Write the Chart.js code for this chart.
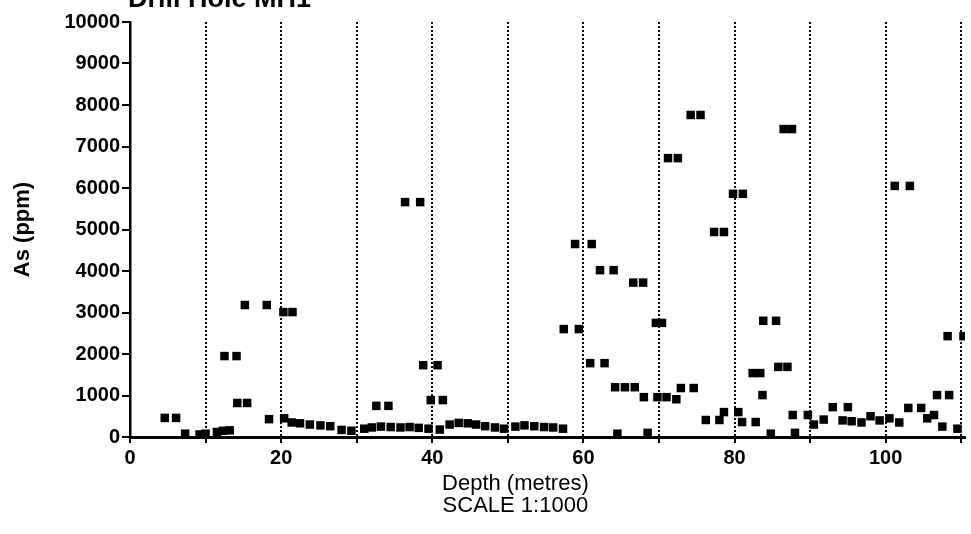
<!DOCTYPE html>
<html>
<head>
<meta charset="utf-8">
<script src="https://cdn.jsdelivr.net/npm/chart.js@4"></script>
<style>
  html, body { margin: 0; padding: 0; background: #fff; overflow: hidden; }
  #wrap { position: relative; width: 971px; height: 534px; }
  #heading {
    position: absolute; left: 128px; top: -17px;
    font: bold 27px "Liberation Sans", Arial, sans-serif; color: #000;
    white-space: nowrap;
  }
</style>
</head>
<body>
<div id="wrap">
  <div id="heading">Drill Hole MH1</div>
  <canvas id="asChart" width="971" height="534"></canvas>
</div>
<script>
// depth of each sample (m) and its arsenic assay (ppm)
const depths = [
  4.6, 6.1, 7.3, 9.2, 10.0, 11.5, 12.3, 13.2, 12.5, 14.1, 14.2, 15.5, 15.2, 18.1, 18.4,
  20.3, 21.5, 20.4, 21.4, 22.5, 23.8, 25.2, 26.5, 28.0, 29.3,
  31.0, 32.0, 32.6, 34.2, 33.2, 34.5, 35.8, 36.4, 38.4, 37.0, 38.2, 38.8, 40.7, 39.8, 41.4, 39.5,
  41.0, 42.3, 43.5, 44.7, 45.8, 47.0, 48.3, 49.5,
  51.0, 52.2, 53.5, 54.8, 56.0, 57.3, 57.4, 59.4, 58.9, 61.1,
  60.9, 62.8, 62.2, 64.0, 64.2, 65.5, 66.8, 66.6, 67.9, 68.0, 64.5, 68.5,
  69.6, 70.4, 69.8, 71.0, 72.3, 71.2, 72.5, 72.9, 74.6, 74.2, 75.5, 76.2, 78.0, 77.3, 78.6,
  78.6, 80.5, 79.8, 81.1, 81.0, 82.8, 82.4, 83.4, 83.7, 83.8, 85.5, 85.8, 87.0, 86.5, 87.6,
  84.8, 88.0, 87.7, 89.7,
  90.5, 91.8, 93.0, 95.0, 94.3, 95.5, 96.8, 98.0, 99.2,
  100.5, 101.2, 103.2, 101.8, 103.0, 104.7, 105.5, 106.4, 106.8, 108.4, 107.5, 108.2, 110.3, 109.5
];
const arsenic = [
  460, 460, 80, 60, 80, 120, 150, 160, 1950, 1950, 820, 820, 3180, 3180, 430,
  3010, 3010, 450, 350, 330, 300, 280, 260, 170, 150,
  200, 230, 750, 750, 250, 240, 230, 5660, 5660, 240, 220, 1730, 1730, 890, 890, 200,
  180, 300, 340, 330, 300, 260, 230, 200,
  250, 280, 260, 240, 230, 200, 2600, 2600, 4650, 4650,
  1780, 1780, 4020, 4020, 1200, 1200, 1200, 3720, 3720, 960, 80, 100,
  2750, 2750, 960, 960, 910, 6720, 6720, 1180, 1180, 7760, 7760, 410, 410, 4940, 4940,
  600, 600, 5860, 5860, 360, 360, 1540, 1540, 1010, 2800, 2800, 1690, 1690, 7420, 7420,
  80, 100, 530, 530,
  300, 420, 720, 720, 400, 380, 350, 500, 400,
  450, 6050, 6050, 350, 700, 700, 450, 530, 1010, 1010, 250, 2430, 2430, 200
];
const depthTicks = [0, 20, 40, 60, 80, 100];
const asTicks = [0, 1000, 2000, 3000, 4000, 5000, 6000, 7000, 8000, 9000, 10000];

const FONT = '"Liberation Sans", Arial, sans-serif';

// x axis caption drawn under the tick labels, a little left of centre like the original
const captionPlugin = {
  id: 'captions',
  afterDraw(chart) {
    const ctx = chart.ctx;
    const x = chart.scales.x.getPixelForValue(51);
    const y0 = chart.chartArea.bottom;
    ctx.save();
    ctx.fillStyle = '#000';
    ctx.textAlign = 'center';
    ctx.textBaseline = 'top';
    ctx.font = '22px ' + FONT;
    ctx.fillText('Depth (metres)', x, y0 + 36);
    ctx.fillText('SCALE 1:1000', x, y0 + 58);
    ctx.restore();
  }
};

new Chart(document.getElementById('asChart').getContext('2d'), {
  type: 'scatter',
  data: {
    datasets: [{
      label: 'As (ppm)',
      data: depths.map((d, i) => ({ x: d, y: arsenic[i] })),
      backgroundColor: '#000',
      borderColor: '#000',
      borderWidth: 0,
      pointStyle: 'rect',
      pointRadius: 6,
      pointHoverRadius: 6
    }]
  },
  options: {
    responsive: false,
    animation: false,
    events: [],
    layout: { padding: { top: 22, right: 0, left: 0, bottom: 0 } },
    plugins: {
      legend: { display: false },
      tooltip: { enabled: false },
      title: { display: false }
    },
    scales: {
      x: {
        type: 'linear',
        min: 0,
        max: 110.5,
        afterFit: scale => { scale.height = 97; },
        afterBuildTicks: scale => {
          scale.ticks = [];
          for (let v = 0; v <= 110; v += 10) scale.ticks.push({ value: v });
        },
        ticks: {
          color: '#000',
          font: { family: FONT, size: 20, weight: 'bold' },
          padding: 3,
          maxRotation: 0,
          autoSkip: false,
          callback: v => depthTicks.includes(v) ? String(v) : ''
        },
        grid: {
          color: ctx => ctx.tick && ctx.tick.value === 0 ? 'rgba(0,0,0,0)' : '#000',
          lineWidth: 2,
          drawTicks: true,
          tickLength: 6,
          tickColor: '#000',
          tickWidth: 2
        },
        border: { display: true, color: '#000', width: 3, dash: [2, 2] }
      },
      y: {
        min: 0,
        max: 10000,
        afterFit: scale => { scale.width = 130; },
        afterBuildTicks: scale => { scale.ticks = asTicks.map(v => ({ value: v })); },
        ticks: {
          color: '#000',
          font: { family: FONT, size: 20, weight: 'bold' },
          padding: 2,
          callback: v => String(v)
        },
        grid: {
          drawOnChartArea: false,
          drawTicks: true,
          tickLength: 8,
          color: '#000',
          lineWidth: 2
        },
        border: { display: true, color: '#000', width: 2.5 },
        title: {
          display: true,
          text: 'As (ppm)',
          color: '#000',
          font: { family: FONT, size: 22, weight: 'bold' },
          padding: { top: 10, bottom: 14 }
        }
      }
    }
  },
  plugins: [captionPlugin]
});
</script>
</body>
</html>
